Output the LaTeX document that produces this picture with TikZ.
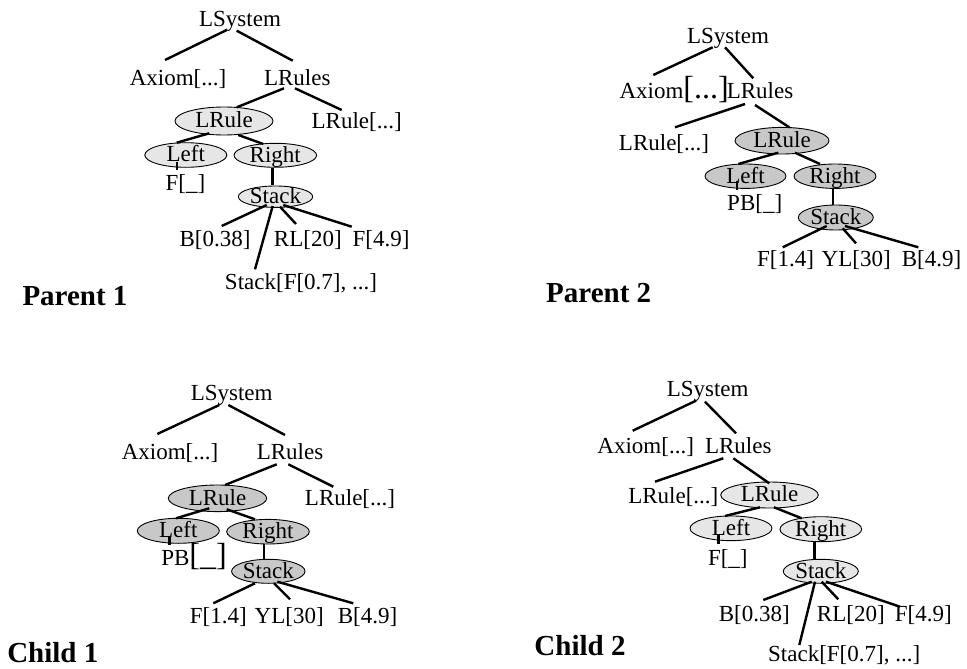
\documentclass[tikz,border=0pt]{standalone}
\usepackage{fontspec}
\setmainfont{Liberation Serif}
\usetikzlibrary{shapes.geometric,calc}
\definecolor{lightfill}{RGB}{230,230,230}
\definecolor{darkfill}{RGB}{200,200,200}
\newcommand\conn[6]{\draw[link] ($(#1)+(#2,#3)$) -- ($(#4)+(#5,#6)$);}
\newcommand\bigbr[1]{{\fontsize{32}{32}\selectfont #1}}
\begin{document}
\begin{tikzpicture}[x=1pt,y=-1pt,
  lbl/.style={anchor=base, inner sep=0pt, font=\fontsize{23}{27}\selectfont},
  ell/.style={ellipse, draw, line width=0.9pt, inner xsep=0pt, inner ysep=-4pt, text height=13.6pt, text depth=0pt, font=\fontsize{23}{27}\selectfont},
  link/.style={line width=2.4pt},
  heading/.style={anchor=base, inner sep=0pt, font=\fontsize{29}{33}\selectfont\bfseries}]
\useasboundingbox (0,0) rectangle (967,669);

% ---------------- Parent 1 ----------------
\node[lbl] (ls1) at (240,26.7) {LSystem};
\node[lbl] (ax1) at (178,85) {Axiom[...]};
\node[lbl] (lr1) at (297.3,85) {LRules};
\node[ell, fill=lightfill, minimum width=98pt, minimum height=28pt] (rule1) at (224,121) {LRule};
\node[lbl] (rx1) at (356.7,128.3) {LRule[...]};
\node[ell, fill=lightfill, minimum width=82pt, minimum height=24.6pt] (left1) at (185.8,155) {Left};
\node[ell, fill=lightfill, minimum width=82.6pt, minimum height=24pt] (right1) at (275.3,155.3) {Right};
\node[lbl] (f1) at (185.5,190.7) {F[\_]};
\node[ell, fill=lightfill, minimum width=74.4pt, minimum height=21.4pt] (stack1) at (275.5,196.7) {Stack};
\node[lbl] (b1) at (215,246) {B[0.38]};
\node[lbl] (rl1) at (307.8,246) {RL[20]};
\node[lbl] (fa1) at (381,246) {F[4.9]};
\node[lbl] (st1) at (301,289.3) {Stack[F[0.7], ...]};
\node[heading] (p1) at (75,305) {Parent 1};

\conn{ls1.base}{-13.3}{3.3}{ax1.base}{-13}{-25}
\conn{ls1.base}{-3.3}{4}{lr1.base}{-4.6}{-24.3}
\conn{lr1.base}{-13.3}{3.3}{rule1.center}{12.7}{-13.7}
\conn{lr1.base}{-2.3}{3.3}{rx1.base}{-15}{-18.3}
\conn{rule1.center}{-14.7}{12.3}{left1.center}{-9.1}{-12.3}
\conn{rule1.center}{14.3}{14}{right1.center}{-12}{-11.3}
\conn{left1.center}{-9.1}{6.7}{f1.base}{-8.8}{-20.7}
\conn{right1.center}{-3}{13}{stack1.center}{-3.2}{-11.7}
\conn{stack1.center}{-8.8}{8.3}{b1.base}{6.7}{-20}
\conn{stack1.center}{-2.8}{9.3}{st1.base}{-46}{-20}
\conn{stack1.center}{4.5}{10}{rl1.base}{-11.8}{-22}
\conn{stack1.center}{7.8}{8.3}{fa1.base}{-29.3}{-19.3}

% ---------------- Parent 2 ----------------
\node[lbl] (ls2) at (728,43.3) {LSystem};
\node[lbl] (ax2) at (674.2,98.3) {Axiom\bigbr{[...]}};
\node[lbl] (lr2) at (760,98.3) {LRules};
\node[lbl] (rx2) at (664,150) {LRule[...]};
\node[ell, fill=darkfill, minimum width=94pt, minimum height=26.6pt] (rule2) at (782,140.7) {LRule};
\node[ell, fill=darkfill, minimum width=81pt, minimum height=24.4pt] (left2) at (745.5,176.2) {Left};
\node[ell, fill=darkfill, minimum width=82pt, minimum height=24.4pt] (right2) at (835,176.2) {Right};
\node[lbl] (pb2) at (754.7,210) {PB[\_]};
\node[ell, fill=darkfill, minimum width=75pt, minimum height=25pt] (stack2) at (835.8,217.5) {Stack};
\node[lbl] (fb2) at (785.5,266.7) {F[1.4]};
\node[lbl] (yl2) at (856.2,266.7) {YL[30]};
\node[lbl] (bb2) at (931.5,266.7) {B[4.9]};
\node[heading] (p2) at (598.7,302) {Parent 2};

\conn{ls2.base}{-15.3}{4}{ax2.base}{-20.9}{-23.3}
\conn{ls2.base}{-3}{4}{lr2.base}{-6.7}{-20}
\conn{lr2.base}{-15}{5.7}{rx2.base}{11}{-22.7}
\conn{lr2.base}{-5}{6.7}{rule2.center}{7.3}{-13.4}
\conn{rule2.center}{-3.7}{12}{left2.center}{-7.2}{-12.2}
\conn{rule2.center}{13}{12}{right2.center}{-15}{-12.2}
\conn{left2.center}{-8.8}{4.5}{pb2.base}{-18}{-20}
\conn{right2.center}{-2.3}{13.1}{stack2.center}{-3.1}{-12.5}
\conn{stack2.center}{-9.1}{8.5}{fb2.base}{-2.8}{-19.4}
\conn{stack2.center}{6.9}{10.8}{yl2.base}{-0.2}{-23.4}
\conn{stack2.center}{9.2}{8.5}{bb2.base}{-13.2}{-19.4}

% ---------------- Child 1 ----------------
\node[lbl] (ls3) at (231.7,400.7) {LSystem};
\node[lbl] (ax3) at (170,459.3) {Axiom[...]};
\node[lbl] (lr3) at (290,459.3) {LRules};
\node[ell, fill=darkfill, minimum width=98.4pt, minimum height=26.6pt] (rule3) at (217.5,498.3) {LRule};
\node[lbl] (rx3) at (350,505) {LRule[...]};
\node[ell, fill=darkfill, minimum width=82pt, minimum height=25pt] (left3) at (178.3,530.8) {Left};
\node[ell, fill=darkfill, minimum width=82.6pt, minimum height=24.6pt] (right3) at (268,531.7) {Right};
\node[lbl] (pb3) at (194,565) {PB\bigbr{[\_]}};
\node[ell, fill=darkfill, minimum width=73.4pt, minimum height=24pt] (stack3) at (268.3,571.3) {Stack};
\node[lbl] (fb3) at (218.3,623.3) {F[1.4]};
\node[lbl] (yl3) at (289.2,623.3) {YL[30]};
\node[lbl] (bb3) at (367.5,623.3) {B[4.9]};
\node[heading] (c1) at (52.8,662) {Child 1};

\conn{ls3.base}{-12.4}{4.3}{ax3.base}{-12.7}{-25.3}
\conn{ls3.base}{-3.4}{4.3}{lr3.base}{-5}{-24.3}
\conn{lr3.base}{-13.3}{5}{rule3.center}{7.5}{-13.3}
\conn{lr3.base}{-1.7}{5}{rx3.base}{-16.7}{-18.3}
\conn{rule3.center}{-8.2}{10}{left3.center}{-2.3}{-12.5}
\conn{rule3.center}{9.2}{11}{right3.center}{-13}{-12.4}
\conn{left3.center}{-9}{5.9}{pb3.base}{-24.7}{-20}
\conn{right3.center}{-4}{12.3}{stack3.center}{-4.3}{-11.3}
\conn{stack3.center}{-13.3}{12}{fb3.base}{-5}{-20}
\conn{stack3.center}{5.7}{12}{yl3.base}{0.8}{-24}
\conn{stack3.center}{9}{10.4}{bb3.base}{-14.2}{-20}

% ---------------- Child 2 ----------------
\node[lbl] (ls4) at (707.7,396.7) {LSystem};
\node[lbl] (ax4) at (645.7,453.3) {Axiom[...]};
\node[lbl] (lr4) at (738.3,453.3) {LRules};
\node[lbl] (rx4) at (673.3,503.3) {LRule[...]};
\node[ell, fill=lightfill, minimum width=97.6pt, minimum height=26pt] (rule4) at (769.5,495) {LRule};
\node[ell, fill=lightfill, minimum width=82pt, minimum height=24.7pt] (left4) at (731,528.3) {Left};
\node[ell, fill=lightfill, minimum width=81.7pt, minimum height=25pt] (right4) at (820.8,529.2) {Right};
\node[lbl] (f4) at (727.8,565) {F[\_]};
\node[ell, fill=lightfill, minimum width=75pt, minimum height=24pt] (stack4) at (820.8,571.3) {Stack};
\node[lbl] (b4) at (754.2,621.7) {B[0.38]};
\node[lbl] (rl4) at (850.8,621.7) {RL[20]};
\node[lbl] (fa4) at (923.3,621.7) {F[4.9]};
\node[lbl] (st4) at (844.2,661.7) {Stack[F[0.7], ...]};
\node[heading] (c2) at (580,655) {Child 2};

\conn{ls4.base}{-11.7}{4}{ax4.base}{-13}{-22.6}
\conn{ls4.base}{-2.7}{5}{lr4.base}{-2.3}{-20}
\conn{lr4.base}{-15}{5}{rx4.base}{-18.3}{-21.6}
\conn{lr4.base}{-5}{5}{rule4.center}{-0.2}{-11.7}
\conn{rule4.center}{-9.5}{12.3}{left4.center}{-6}{-12.3}
\conn{rule4.center}{4.5}{12.3}{right4.center}{-19.1}{-10.9}
\conn{left4.center}{-12.7}{6.7}{f4.base}{-9.5}{-21}
\conn{right4.center}{-6.5}{12.5}{stack4.center}{-6.5}{-12}
\conn{stack4.center}{-9.1}{10.4}{b4.base}{9.1}{-21.7}
\conn{stack4.center}{-5.8}{10.4}{st4.base}{-44.9}{-16.7}
\conn{stack4.center}{0.9}{10.4}{rl4.base}{-12.5}{-22.4}
\conn{stack4.center}{5.2}{10.4}{fa4.base}{-23.3}{-15}
\end{tikzpicture}
\end{document}
